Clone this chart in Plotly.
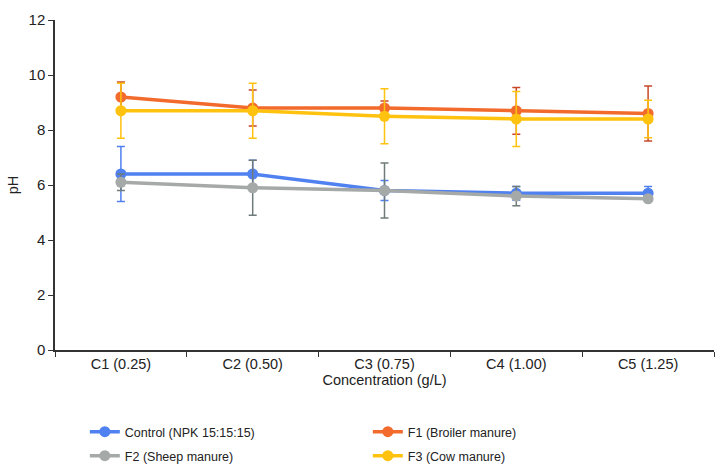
import plotly.graph_objects as go

categories = ["C1 (0.25)", "C2 (0.50)", "C3 (0.75)", "C4 (1.00)", "C5 (1.25)"]

control = [6.4, 6.4, 5.8, 5.7, 5.7]
control_err = [1.0, 0.5, 0.36, 0.25, 0.25]
f1 = [9.2, 8.8, 8.8, 8.7, 8.6]
f1_err = [0.55, 0.65, 0.25, 0.85, 1.0]
f2 = [6.1, 5.9, 5.8, 5.6, 5.5]
f2_err = [0.3, 1.0, 1.0, 0.35, 0.1]
f3 = [8.7, 8.7, 8.5, 8.4, 8.4]
f3_err = [1.0, 1.0, 1.0, 1.0, 0.68]

series = [
    ("Control (NPK 15:15:15)", control, control_err, "#4F81F0", "#4F81F0", "legend"),
    ("F1 (Broiler manure)", f1, f1_err, "#F26B2C", "#C8472A", "legend"),
    ("F2 (Sheep manure)", f2, f2_err, "#A5A9A8", "#6F7B7A", "legend2"),
    ("F3 (Cow manure)", f3, f3_err, "#FFC20E", "#FFC20E", "legend2"),
]

fig = go.Figure()
for name, vals, errs, color, ecolor, leg in series:
    fig.add_trace(go.Scatter(
        x=categories, y=vals, name=name, mode="lines+markers",
        line=dict(color=color, width=3.5),
        marker=dict(color=color, size=11),
        error_y=dict(type="data", array=errs, visible=True, color=ecolor,
                     thickness=1.5, width=4),
        legend=leg,
    ))

legend_common = dict(orientation="h", xref="container", yref="container",
                     x=0.117, xanchor="left", yanchor="middle",
                     entrywidth=238, entrywidthmode="pixels",
                     font=dict(size=12.5, color="#222222"),
                     bgcolor="rgba(0,0,0,0)")

fig.update_layout(
    width=725, height=467,
    margin=dict(l=55, r=11, t=17, b=117),
    paper_bgcolor="white", plot_bgcolor="white",
    font=dict(family="Liberation Sans, Arial, sans-serif", size=15, color="#222222"),
    showlegend=True,
    legend=dict(legend_common, y=(467 - 432) / 467),
    legend2=dict(legend_common, y=(467 - 456) / 467),
    xaxis=dict(range=[-0.5, 4.5], showline=True, linecolor="#333333", linewidth=1.5,
               ticks="outside", tickson="boundaries", ticklen=5,
               tickcolor="#333333", showgrid=False,
               tickfont=dict(size=14.5),
               title=dict(text="Concentration (g/L)", standoff=3,
                          font=dict(size=14.5))),
    yaxis=dict(range=[0, 12], dtick=2, showline=True, linecolor="#333333",
               linewidth=1.5, ticks="outside", ticklen=5, tickcolor="#333333",
               showgrid=False, zeroline=False, tickfont=dict(size=15),
               title=dict(text="pH", standoff=6, font=dict(size=14.5))),
)

fig.write_html("out.html", config={"displayModeBar": False},
               post_script="document.body.style.margin='0';document.body.style.overflow='hidden';")
